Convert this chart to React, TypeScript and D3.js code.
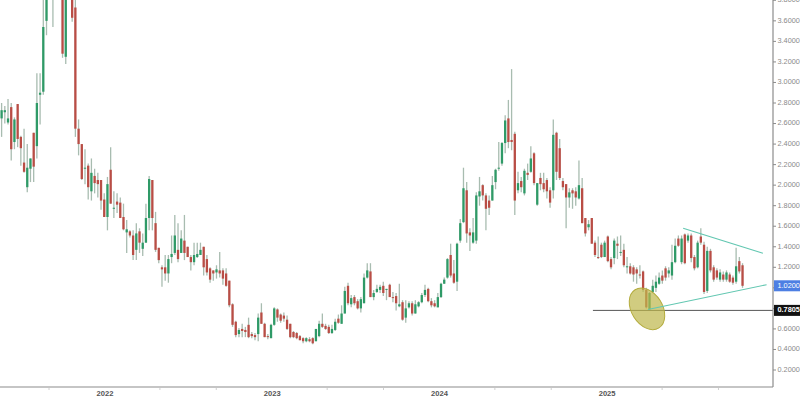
import React from "react";
import * as d3 from "d3";

// ---------- data (weekly candles) ----------
const FIRST_WEEK = "2021-05-17";

const opens = [
  2.65,2.71,2.61,2.76,2.42,2.79,2.47,2.22,1.98,2.16,
  2.51,2.38,2.88,2.91,3.60,4.20,4.60,4.00,4.50,4.30,
  3.25,4.00,3.95,3.73,2.55,2.40,2.16,2.19,1.94,2.09,
  2.05,2.05,1.86,1.69,2.15,1.77,1.84,1.83,1.69,1.54,
  1.55,1.51,1.37,1.55,1.38,1.44,1.68,2.05,1.63,1.39,
  1.20,1.20,1.14,1.30,1.34,1.37,1.34,1.46,1.40,1.30,
  1.25,1.30,1.32,1.40,1.28,1.19,1.17,1.15,1.17,1.17,
  1.14,1.07,0.84,0.67,0.55,0.60,0.59,0.64,0.55,0.54,
  0.55,0.76,0.65,0.53,0.51,0.64,0.79,0.74,0.73,0.69,
  0.65,0.57,0.56,0.53,0.51,0.48,0.50,0.51,0.48,0.53,
  0.65,0.63,0.62,0.56,0.59,0.70,0.65,0.75,1.02,0.84,
  0.91,0.87,0.80,0.85,1.10,1.16,0.91,0.96,0.98,1.02,
  0.98,1.03,0.91,0.92,0.82,0.86,0.71,0.81,0.85,0.75,
  0.82,0.86,0.93,0.99,0.87,0.85,0.81,0.91,1.04,1.10,
  1.32,1.14,1.06,1.46,1.64,1.95,1.54,1.44,1.46,1.89,
  2.00,1.90,1.85,1.85,2.03,2.16,2.21,2.41,2.65,2.44,
  2.50,1.95,2.04,1.92,2.12,2.13,2.31,1.81,2.07,2.02,
  2.05,1.95,1.95,2.51,2.36,2.04,2.01,1.88,1.95,1.94,
  1.87,1.97,1.68,1.59,1.68,1.44,1.30,1.42,1.30,1.50,
  1.28,1.29,1.43,1.34,1.37,1.20,1.21,1.20,1.18,1.13,
  1.16,0.98,0.79,0.96,1.00,1.04,1.12,1.19,1.14,1.12,
  1.25,1.48,1.25,1.52,1.46,1.51,1.30,1.20,1.50,1.42,
  0.97,1.36,1.20,1.17,1.08,1.13,1.08,1.13,1.10,1.06,
  1.26,1.22,
];

const highs = [
  2.80,2.77,2.84,2.80,2.66,2.79,2.48,2.55,2.40,2.26,
  2.51,3.09,3.09,3.95,4.40,4.90,5.00,4.80,5.10,4.50,
  4.30,4.40,4.10,3.85,2.64,2.40,2.35,2.21,2.26,2.16,
  2.12,2.05,1.92,2.08,2.37,1.94,1.92,1.88,1.82,1.66,
  1.56,1.56,1.63,1.58,1.53,1.82,2.09,2.05,1.74,1.39,
  1.22,1.32,1.32,1.51,1.71,1.63,1.56,1.71,1.40,1.32,
  1.44,1.44,1.44,1.40,1.32,1.20,1.17,1.22,1.35,1.19,
  1.19,1.07,0.85,0.68,0.61,0.65,0.62,0.71,0.57,0.56,
  0.75,0.85,0.66,0.55,0.65,0.81,0.80,0.75,0.76,0.73,
  0.65,0.58,0.57,0.54,0.52,0.52,0.52,0.52,0.60,0.68,
  0.75,0.65,0.64,0.64,0.70,0.74,0.83,1.01,1.05,0.93,
  0.93,0.89,0.91,1.14,1.24,1.24,0.98,1.03,1.03,1.06,
  0.99,1.04,0.96,0.95,1.04,0.88,0.88,0.87,0.87,0.88,
  0.87,0.95,1.03,1.00,0.90,0.88,0.95,1.05,1.10,1.29,
  1.43,1.27,1.44,1.67,2.17,2.03,1.58,1.68,1.93,2.08,
  2.01,1.92,1.90,2.09,2.16,2.42,2.42,2.68,2.83,3.13,
  2.52,2.13,2.08,2.16,2.21,2.38,2.32,2.02,2.12,2.12,
  2.07,1.98,2.64,2.52,2.45,2.07,2.01,1.97,1.97,1.98,
  2.24,2.07,1.68,1.66,1.68,1.46,1.50,1.44,1.46,1.51,
  1.30,1.48,1.50,1.51,1.43,1.30,1.24,1.22,1.20,1.22,
  1.17,1.00,0.96,1.08,1.12,1.15,1.17,1.21,1.20,1.42,
  1.48,1.51,1.51,1.53,1.53,1.53,1.32,1.46,1.58,1.45,
  1.40,1.38,1.22,1.19,1.18,1.16,1.17,1.15,1.12,1.39,
  1.30,1.24,
];

const lows = [
  2.47,2.60,2.59,2.24,2.35,2.37,2.19,2.12,1.93,2.03,
  2.03,2.26,2.59,2.88,3.46,3.95,3.54,3.90,3.95,3.24,
  3.18,3.85,3.59,2.47,2.29,2.05,2.01,1.86,1.85,1.92,
  1.88,1.76,1.69,1.56,1.82,1.68,1.73,1.68,1.56,1.34,
  1.49,1.27,1.27,1.34,1.31,1.44,1.56,1.56,1.35,1.24,
  1.01,1.07,1.05,1.24,1.32,1.25,1.34,1.27,1.30,1.17,
  1.22,1.29,1.32,1.12,1.12,1.05,1.07,1.09,1.10,1.03,
  1.01,0.81,0.62,0.52,0.52,0.52,0.52,0.51,0.51,0.49,
  0.48,0.65,0.52,0.50,0.51,0.63,0.67,0.66,0.67,0.59,
  0.51,0.51,0.50,0.49,0.46,0.47,0.47,0.45,0.48,0.52,
  0.61,0.59,0.55,0.55,0.58,0.65,0.65,0.75,0.83,0.81,
  0.83,0.79,0.76,0.85,1.09,0.91,0.88,0.95,0.95,0.92,
  0.88,0.91,0.86,0.78,0.81,0.68,0.66,0.80,0.73,0.75,
  0.81,0.85,0.91,0.86,0.81,0.81,0.81,0.90,1.04,1.09,
  1.10,1.04,0.97,1.44,1.63,1.44,1.36,1.43,1.43,1.80,
  1.85,1.56,1.71,1.85,1.96,2.14,2.19,2.31,2.36,2.34,
  1.71,1.92,1.93,1.90,2.05,2.12,2.00,1.80,1.95,1.93,
  1.87,1.78,1.87,2.05,2.05,1.95,1.58,1.78,1.77,1.80,
  1.86,1.63,1.50,1.56,1.43,1.30,1.28,1.29,1.30,1.25,
  1.18,1.23,1.28,1.31,1.20,1.14,1.13,1.06,1.04,1.09,
  0.96,0.80,0.7805,0.95,0.96,1.03,1.04,1.07,1.10,1.08,
  1.24,1.40,1.23,1.23,1.44,1.25,1.17,1.19,1.42,0.94,
  0.95,1.15,1.06,1.08,1.06,1.06,1.06,1.05,1.03,1.04,
  1.14,1.00,
];

const closes = [
  2.73,2.73,2.65,2.35,2.64,2.45,2.36,2.13,2.17,2.26,
  2.18,2.80,2.90,3.54,4.20,4.60,4.00,4.50,4.30,3.28,
  4.00,3.95,3.63,2.55,2.40,2.06,2.17,1.98,2.12,2.02,
  2.01,1.85,1.69,2.01,1.82,1.78,1.81,1.68,1.57,1.57,
  1.51,1.32,1.53,1.44,1.44,1.68,2.06,1.68,1.37,1.27,
  1.18,1.14,1.28,1.33,1.51,1.28,1.48,1.34,1.30,1.25,
  1.32,1.33,1.37,1.20,1.15,1.08,1.14,1.18,1.14,1.09,
  1.02,0.83,0.64,0.54,0.59,0.58,0.57,0.52,0.53,0.52,
  0.71,0.65,0.52,0.52,0.64,0.80,0.71,0.68,0.70,0.60,
  0.52,0.52,0.51,0.49,0.48,0.51,0.48,0.46,0.60,0.65,
  0.62,0.60,0.56,0.60,0.67,0.66,0.75,0.97,0.85,0.90,
  0.85,0.80,0.89,1.10,1.17,0.91,0.95,0.99,1.01,0.95,
  0.99,0.91,0.90,0.85,0.84,0.69,0.80,0.85,0.75,0.84,
  0.86,0.93,0.98,0.87,0.83,0.82,0.91,1.04,1.08,1.28,
  1.12,1.05,1.43,1.63,1.97,1.53,1.51,1.54,1.90,1.94,
  1.90,1.77,1.78,2.00,2.15,2.17,2.41,2.63,2.42,2.42,
  1.85,2.02,1.98,2.14,2.10,2.26,2.02,2.02,2.01,1.96,
  1.94,1.83,2.49,2.13,2.07,1.98,1.88,1.93,1.92,1.88,
  2.00,1.63,1.53,1.62,1.43,1.32,1.29,1.30,1.44,1.26,
  1.20,1.46,1.41,1.35,1.22,1.21,1.14,1.13,1.14,1.12,
  0.98,0.81,0.95,1.02,1.06,1.10,1.07,1.10,1.17,1.25,
  1.41,1.41,1.48,1.24,1.51,1.29,1.19,1.44,1.44,0.96,
  1.36,1.17,1.08,1.10,1.15,1.08,1.15,1.06,1.05,1.21,
  1.16,1.02,
];

const yTickValues = [0.2,0.4,0.6,0.8,1.0,1.2,1.4,1.6,1.8,2.0,2.2,2.4,2.6,2.8,3.0,3.2,3.4,3.6,3.8];
const yearLabels = ["2022", "2023", "2024", "2025"];
const minorTickDates = [
  "2021-09-01","2022-05-01","2022-09-01","2023-05-01","2023-09-01",
  "2024-05-01","2024-09-01","2025-05-01","2025-09-01",
];

const lastPrice = 1.02;
const supportLevel = 0.7805;
const supportStart = "2024-12-01";
const upperTrend = [
  { date: "2025-06-16", value: 1.58 },
  { date: "2025-12-07", value: 1.336 },
];
const lowerTrend = [
  { date: "2025-03-31", value: 0.789 },
  { date: "2025-12-15", value: 1.031 },
];
const circledLow = { date: "2025-03-29", value: 0.796 };

// ---------- chart ----------
export default function App() {
  const W = 800;
  const H = 399;
  const plotR = 773;
  const plotB = 387;
  const parse = d3.utcParse("%Y-%m-%d");

  const x = d3
    .scaleUtc()
    .domain([parse("2021-05-17") as Date, parse("2025-12-29") as Date])
    .range([0, plotR]);
  const y = d3.scaleLinear().domain([0.0345, 3.803]).range([plotB, 0]);

  const start = parse(FIRST_WEEK) as Date;
  const candles = opens.map((o, i) => ({
    date: d3.utcHour.offset(d3.utcDay.offset(start, i * 7), 84),
    o,
    h: highs[i],
    l: lows[i],
    c: closes[i],
  }));

  const bodyW = 2.3;
  const up = "#2f9a67";
  const down = "#b94d45";
  const wick = "#a8bcb0";
  const fmt = d3.format(".4f");

  const markerYs = [y(lastPrice), y(supportLevel)];
  const visibleTicks = yTickValues.filter(
    (v) => markerYs.every((my) => Math.abs(y(v) - my) > 8)
  );

  const line = d3
    .line<{ date: string; value: number }>()
    .x((d) => x(parse(d.date) as Date))
    .y((d) => y(d.value));

  const font = "'Liberation Sans', Arial, sans-serif";
  const labelSize = 7.3;
  const cxLow = x(parse(circledLow.date) as Date);
  const cyLow = y(circledLow.value);

  return (
    <svg
      width={W}
      height={H}
      style={{ position: "absolute", left: 0, top: 0, background: "#fff" }}
      fontFamily={font}
    >
      <defs>
        <clipPath id="plot-clip">
          <rect x={0} y={0} width={plotR} height={plotB} />
        </clipPath>
      </defs>

      <g clipPath="url(#plot-clip)">
        {candles.map((d, i) => {
          const cx = x(d.date);
          const isUp = d.c >= d.o;
          const top = y(Math.max(d.o, d.c));
          const bot = y(Math.min(d.o, d.c));
          return (
            <g key={i}>
              <line
                x1={cx}
                x2={cx}
                y1={y(d.h)}
                y2={y(d.l)}
                stroke={wick}
                strokeWidth={1.3}
              />
              <rect
                x={cx - bodyW / 2}
                y={top}
                width={bodyW}
                height={Math.max(1, bot - top)}
                fill={isUp ? up : down}
              />
            </g>
          );
        })}

        {/* support line */}
        <line
          x1={x(parse(supportStart) as Date)}
          x2={plotR}
          y1={y(supportLevel)}
          y2={y(supportLevel)}
          stroke="#555"
          strokeWidth={1}
        />

        {/* circled low */}
        <ellipse
          cx={cxLow}
          cy={cyLow}
          rx={22.5}
          ry={15.5}
          transform={`rotate(58 ${cxLow} ${cyLow})`}
          fill="#bdb64a"
          fillOpacity={0.7}
          stroke="#b3ab3c"
          strokeWidth={1}
        />

        {/* trend lines */}
        <path d={line(upperTrend) || ""} fill="none" stroke="#62c7b1" strokeWidth={1.1} />
        <path d={line(lowerTrend) || ""} fill="none" stroke="#62c7b1" strokeWidth={1.1} />
      </g>

      {/* axes */}
      <line x1={0} x2={plotR} y1={plotB} y2={plotB} stroke="#8c8c8c" strokeWidth={1.2} />
      <line x1={plotR} x2={plotR} y1={0} y2={plotB} stroke="#8c8c8c" strokeWidth={1.2} />

      {minorTickDates.map((s) => {
        const tx = x(parse(s) as Date);
        return (
          <line key={s} x1={tx} x2={tx} y1={plotB + 1} y2={plotB + 3} stroke="#d0d0d0" strokeWidth={1} />
        );
      })}

      {yearLabels.map((yr) => (
        <text
          key={yr}
          x={x(parse(`${yr}-01-01`) as Date)}
          y={plotB + 7}
          dominantBaseline="middle"
          textAnchor="middle"
          fontSize={7.6}
          fontWeight="bold"
          fill="#555"
        >
          {yr}
        </text>
      ))}

      {yTickValues.map((v) => (
        <line key={`t${v}`} x1={plotR} x2={plotR + 3} y1={y(v)} y2={y(v)} stroke="#8c8c8c" strokeWidth={1} />
      ))}
      {visibleTicks.map((v) => (
        <text
          key={`l${v}`}
          x={plotR + 4.5}
          y={y(v)}
          dominantBaseline="middle"
          fontSize={labelSize}
          fill="#8a8a8a"
        >
          {fmt(v)}
        </text>
      ))}

      {/* last price marker */}
      <rect x={plotR + 1} y={y(lastPrice) - 5.5} width={W - plotR} height={11} fill="#4d7fe3" />
      <text
        x={plotR + 4.5}
        y={y(lastPrice)}
        dominantBaseline="middle"
        fontSize={labelSize}
        fill="#fff"
      >
        {fmt(lastPrice)}
      </text>

      {/* support marker */}
      <rect x={plotR + 1} y={y(supportLevel) - 5.5} width={W - plotR} height={11} fill="#111" />
      <text
        x={plotR + 4.5}
        y={y(supportLevel)}
        dominantBaseline="middle"
        fontSize={labelSize}
        fontWeight="bold"
        fill="#fff"
      >
        {fmt(supportLevel)}
      </text>
    </svg>
  );
}
